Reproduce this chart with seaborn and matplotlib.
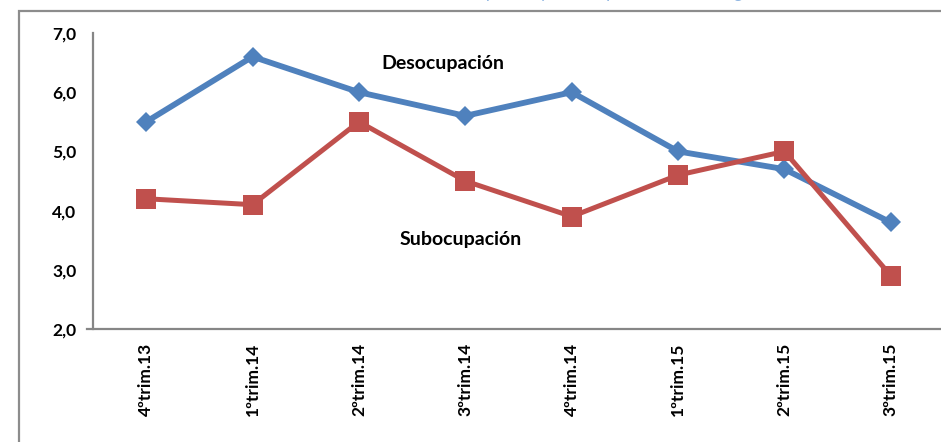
import matplotlib
matplotlib.use("Agg")
import matplotlib.pyplot as plt
import seaborn as sns
import pandas as pd
from matplotlib.patches import Rectangle
from matplotlib.ticker import FixedLocator, FuncFormatter

trimestres = ["4ºtrim.13", "1ºtrim.14", "2ºtrim.14", "3ºtrim.14",
              "4ºtrim.14", "1ºtrim.15", "2ºtrim.15", "3ºtrim.15"]
desocupacion = [5.5, 6.6, 6.0, 5.6, 6.0, 5.0, 4.7, 3.8]
subocupacion = [4.2, 4.1, 5.5, 4.5, 3.9, 4.6, 5.0, 2.9]
y_ticks = [2.0, 3.0, 4.0, 5.0, 6.0, 7.0]
title = "Tasas de desocupación y subocupación horaria según trimestre"

sns.set_theme(style="white")
plt.rcParams['font.family'] = ['Lato', 'DejaVu Sans']

blue = "#4F81BD"
red = "#C0504D"
axis_gray = "#868686"

fig = plt.figure(figsize=(9.41, 4.42), dpi=100)
ax = fig.add_axes([93/941, (442-329)/442, (944-93)/941, (329-33)/442])

df_d = pd.DataFrame({"trim": trimestres, "valor": desocupacion})
df_s = pd.DataFrame({"trim": trimestres, "valor": subocupacion})

sns.lineplot(data=df_d, x="trim", y="valor", ax=ax, color=blue, lw=4.2,
             marker="D", markersize=10.5, markeredgewidth=0, sort=False)
sns.lineplot(data=df_s, x="trim", y="valor", ax=ax, color=red, lw=3.6,
             marker="s", markersize=14, markeredgewidth=0, sort=False)

ax.set_xlim(-0.5, len(trimestres) - 0.5)
ax.set_ylim(y_ticks[0], y_ticks[-1])
ax.set_xlabel("")
ax.set_ylabel("")

ax.set_yticks(y_ticks)
ax.yaxis.set_major_formatter(FuncFormatter(lambda v, p: f"{v:.1f}".replace(".", ",")))
ax.set_xticks(range(len(trimestres)))
ax.set_xticklabels(trimestres, rotation=90, fontweight="bold", fontsize=12.5)
ax.xaxis.set_minor_locator(FixedLocator([i - 0.5 for i in range(len(trimestres) + 1)]))
ax.tick_params(axis="x", which="major", length=0, pad=10)
ax.tick_params(axis="x", which="minor", length=5, width=1.3, color=axis_gray, direction="out")
ax.tick_params(axis="y", length=5, width=1.3, color=axis_gray, direction="out", pad=7)
for lab in ax.get_yticklabels():
    lab.set_fontweight("bold")
    lab.set_fontsize(12.5)
    lab.set_color("black")
for lab in ax.get_xticklabels():
    lab.set_color("black")

for s in ["top", "right"]:
    ax.spines[s].set_visible(False)
for s in ["left", "bottom"]:
    ax.spines[s].set_color(axis_gray)
    ax.spines[s].set_linewidth(1.6)
ax.spines["bottom"].set_bounds(-0.56, len(trimestres) - 0.5)

ax.text(443/941, 1 - 63/442, "Desocupación", transform=fig.transFigure,
        ha="center", va="center", fontsize=14, fontweight="bold", color="black")
ax.text(461/941, 1 - 240/442, "Subocupación", transform=fig.transFigure,
        ha="center", va="center", fontsize=14, fontweight="bold", color="black")

fig.text(600/941, 1 + 2/442, title, ha="center", va="baseline",
         fontsize=13, color="#8DB4E2", fontstyle="italic")

fig.patches.append(Rectangle((19/941, -0.1), 1.2, 1.1 - 11/442, transform=fig.transFigure,
                             fill=False, edgecolor="#8C8C8C", linewidth=1.6, zorder=0))

fig.savefig("out.png", dpi=100)
